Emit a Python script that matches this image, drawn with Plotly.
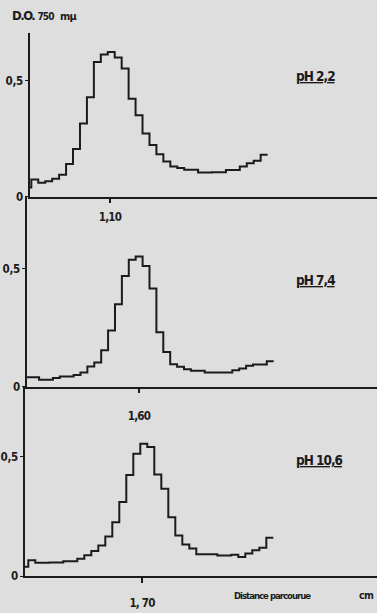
import plotly.graph_objects as go

# Optical density at 750 mμ of successive 1 mm strips of the electrophoresis paper
strip_width_cm = 0.1

ph_labels = ["pH 2,2", "pH 7,4", "pH 10,6"]
peak_ticks_cm = [1.10, 1.60, 1.70]
peak_tick_text = ["1,10", "1,60", "1, 70"]
od_tick_vals = [0, 0.5]
od_tick_text = ["0", "0,5"]

# Left edge (cm) of the first strip of each run
first_edge_cm = [-0.132, -0.048, -0.024]

od_ph_2_2 = [0.040, 0.074, 0.060, 0.067, 0.078, 0.095, 0.141, 0.206, 0.316, 0.430,
             0.582, 0.615, 0.625, 0.601, 0.554, 0.423, 0.352, 0.273, 0.224, 0.184,
             0.152, 0.131, 0.124, 0.117, 0.117, 0.105, 0.105, 0.106, 0.106, 0.115,
             0.115, 0.131, 0.145, 0.155, 0.181]
od_ph_7_4 = [0.039, 0.039, 0.029, 0.029, 0.036, 0.043, 0.043, 0.049, 0.060, 0.085,
             0.102, 0.154, 0.238, 0.350, 0.470, 0.539, 0.553, 0.513, 0.417, 0.231,
             0.147, 0.095, 0.084, 0.074, 0.067, 0.067, 0.060, 0.060, 0.060, 0.060,
             0.069, 0.077, 0.088, 0.094, 0.094, 0.108]
od_ph_10_6 = [0.040, 0.067, 0.057, 0.057, 0.058, 0.058, 0.063, 0.063, 0.074, 0.088,
              0.106, 0.129, 0.167, 0.226, 0.311, 0.423, 0.512, 0.554, 0.540, 0.426,
              0.366, 0.247, 0.171, 0.133, 0.116, 0.092, 0.092, 0.092, 0.087, 0.087,
              0.090, 0.081, 0.095, 0.109, 0.120, 0.161]
runs = [od_ph_2_2, od_ph_7_4, od_ph_10_6]

# Axis windows
x_ranges = [[-0.051, 4.942], [-0.023, 5.049], [0.029, 5.057]]
y_ranges = [[0, 0.709], [0, 0.807], [0, 0.793]]
x_domains = [[30 / 377, 1], [27 / 377, 1], [25 / 377, 1]]
y_domains = [[1 - 199 / 613, 1 - 33 / 613],
             [1 - 391 / 613, 1 - 199 / 613],
             [1 - 583 / 613, 1 - 391 / 613]]
label_standoff = [4, 13, 10]
ph_label_y = [0.735, 0.56, 0.615]

INK = "#1b1b1b"
BG = "#dedede"
FONT = "DejaVu Sans Condensed, DejaVu Sans, sans-serif"


def tight(text, spacing):
    return f"<span style='letter-spacing:{spacing}px'>{text}</span>"


fig = go.Figure()
layout = dict(
    width=377, height=613,
    margin=dict(l=0, r=0, t=0, b=0),
    paper_bgcolor=BG, plot_bgcolor=BG,
    showlegend=False,
    font=dict(family=FONT, color=INK, size=11, weight="bold"),
)

annotations = []
for i, values in enumerate(runs):
    n = i + 1
    xa = "x" if n == 1 else f"x{n}"
    ya = "y" if n == 1 else f"y{n}"
    edges = [first_edge_cm[i] + strip_width_cm * k for k in range(len(values) + 1)]
    fig.add_trace(go.Scatter(
        x=edges, y=values + [values[-1]],
        mode="lines", line=dict(shape="hv", color=INK, width=2),
        xaxis=xa, yaxis=ya, hoverinfo="skip",
    ))
    key = "" if n == 1 else str(n)
    layout["xaxis" + key] = dict(
        domain=x_domains[i], range=x_ranges[i], anchor=ya,
        showline=True, linecolor=INK, linewidth=1.5,
        showgrid=False, zeroline=False,
        ticks="outside", ticklen=5, tickwidth=1.5, tickcolor=INK,
        tickvals=[peak_ticks_cm[i]], ticktext=[tight(peak_tick_text[i], -0.8)],
        ticklabelstandoff=label_standoff[i],
        tickfont=dict(size=11.5, family=FONT, weight="bold"),
    )
    layout["yaxis" + key] = dict(
        domain=y_domains[i], range=y_ranges[i], anchor=xa,
        showline=True, linecolor=INK, linewidth=1.5,
        showgrid=False, zeroline=False,
        ticks="outside", ticklen=3, tickwidth=1.2, tickcolor=INK,
        tickvals=od_tick_vals, ticktext=[tight(t, -0.3) for t in od_tick_text],
        tickfont=dict(size=11.5, family=FONT, weight="bold"),
    )
    annotations.append(dict(
        text=f"<u>{tight(ph_labels[i], -1.0)}</u>",
        xref=xa + " domain", yref=ya + " domain",
        x=(294 - 377 * x_domains[i][0]) / (377 * (1 - x_domains[i][0])),
        y=ph_label_y[i],
        xanchor="left", yanchor="middle", showarrow=False,
        font=dict(size=13.5, family=FONT, color=INK, weight="bold"),
    ))

annotations.append(dict(
    text=("<span style='font-size:13px;letter-spacing:-1.5px'>D.O.</span> "
          "<span style='letter-spacing:-0.8px'>750</span>&nbsp; "
          "<span style='font-size:11px;letter-spacing:-0.8px'>mμ</span>"),
    xref="paper", yref="paper", x=10 / 377, y=1 - 16 / 613,
    xanchor="left", yanchor="middle", showarrow=False,
    font=dict(size=10, family=FONT, color=INK, weight="bold"),
))
annotations.append(dict(
    text=tight("Distance parcourue", -1.0),
    xref="paper", yref="paper", x=313 / 377, y=1 - 602 / 613,
    xanchor="right", yanchor="middle", showarrow=False,
    font=dict(size=9.5, family=FONT, color=INK, weight="bold"),
))
annotations.append(dict(
    text=tight("cm", -0.5),
    xref="paper", yref="paper", x=376 / 377, y=1 - 602 / 613,
    xanchor="right", yanchor="middle", showarrow=False,
    font=dict(size=10.5, family=FONT, color=INK, weight="bold"),
))
layout["annotations"] = annotations
fig.update_layout(**layout)

fig.write_html("out.html")
